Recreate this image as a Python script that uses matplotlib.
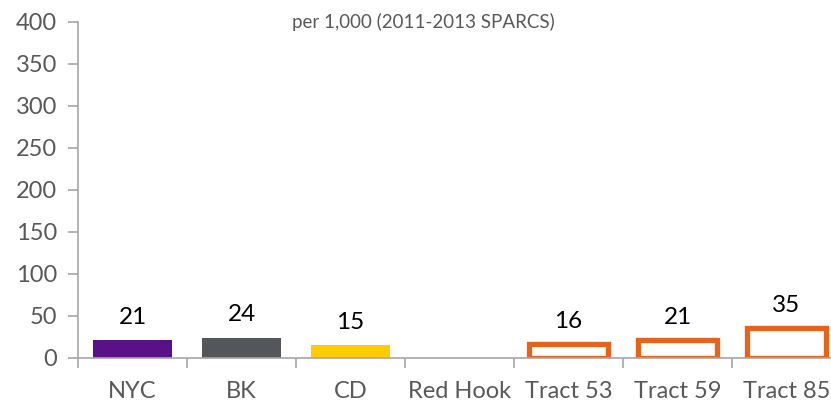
import matplotlib
matplotlib.use("Agg")
import matplotlib.pyplot as plt
import numpy as np

plt.rcParams['font.family'] = ['Lato', 'DejaVu Sans']

categories = ['NYC', 'BK', 'CD', 'Red Hook', 'Tract 53', 'Tract 59', 'Tract 85']
values = [21, 24, 15, np.nan, 16, 21, 35]
solid_colors = ['#5a1187', '#53565a', '#ffcc00']
tract_color = '#e8631a'
grey = '#595959'

fig = plt.figure(figsize=(8.31, 4.03), dpi=100)
ax = fig.add_axes([0.094, 0.112, 0.918, 0.834])

x = np.arange(len(categories))

# solid bars for NYC / BK / CD
ax.bar(x[:3], values[:3], width=0.73, color=solid_colors, zorder=2)
# outlined bars for census tracts
ax.bar(x[4:], values[4:], width=0.72, facecolor='white', edgecolor=tract_color,
       linewidth=3.8, zorder=2)

for xi, v in zip(x, values):
    if np.isnan(v):
        continue
    ax.annotate(f'{v:.0f}', (xi, v), xytext=(0, 9), textcoords='offset points',
                ha='center', va='bottom', fontsize=17.5, color='black')

ax.set_xlim(-0.5, len(categories) - 0.5)
ax.set_ylim(0, 400)
ax.set_yticks(np.arange(0, 401, 50))
ax.set_xticks(x)
ax.set_xticklabels(categories)
ax.set_xticks(np.arange(-0.5, len(categories), 1), minor=True)
ax.tick_params(axis='x', which='major', length=0, pad=17, labelsize=17, labelcolor=grey)
ax.tick_params(axis='x', which='minor', length=7, width=1.2, color='#a6a6a6')
ax.tick_params(axis='y', length=7, width=1.2, color='#a6a6a6', labelsize=17,
               labelcolor=grey, pad=8)

for s in ['top', 'right']:
    ax.spines[s].set_visible(False)
for s in ['left', 'bottom']:
    ax.spines[s].set_color('#a6a6a6')
    ax.spines[s].set_linewidth(1.2)

fig.text(0.51, 0.945, 'per 1,000 (2011-2013 SPARCS)', ha='center', va='center',
         fontsize=13.5, color=grey)

fig.savefig('out.png', dpi=100)
